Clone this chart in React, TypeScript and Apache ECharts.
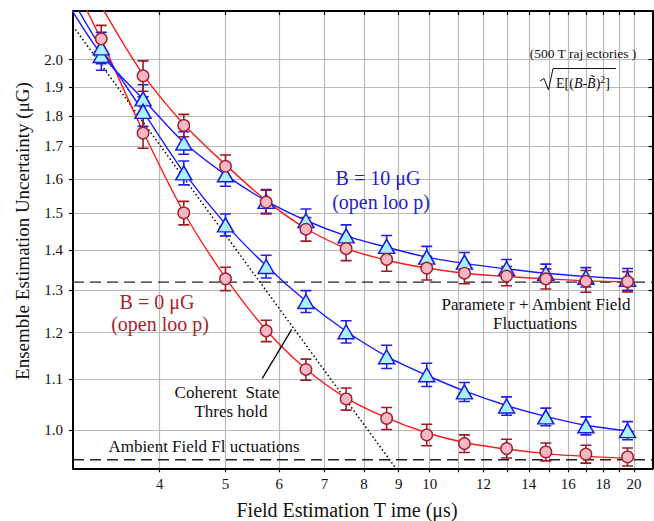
import React, { useEffect, useRef } from "react";
import * as echarts from "echarts";

// ---------- data ----------
const timesX = [3.28, 3.78, 4.34, 5.0, 5.74, 6.57, 7.53, 8.64, 9.9, 11.25, 12.98, 14.83, 16.99, 19.57];

const redUpperY = [null, 1.94, 1.768, 1.638, 1.532, 1.456, 1.404, 1.376, 1.354, 1.341, 1.334, 1.327, 1.321, 1.32];
const redUpperErr = [null, 0.055, 0.037, 0.035, 0.034, 0.032, 0.031, 0.03, 0.03, 0.026, 0.024, 0.025, 0.027, 0.025];
const redLowerY = [2.079, 1.743, 1.501, 1.327, 1.204, 1.12, 1.06, 1.022, 0.991, 0.975, 0.966, 0.96, 0.956, 0.951];
const redLowerErr = [0.053, 0.049, 0.033, 0.029, 0.024, 0.022, 0.022, 0.021, 0.02, 0.016, 0.017, 0.016, 0.016, 0.016];
const blueUpperY = [2.015, 1.858, 1.711, 1.612, 1.534, 1.48, 1.438, 1.41, 1.382, 1.369, 1.353, 1.341, 1.331, 1.326];
const blueUpperErr = [0.055, 0.05, 0.036, 0.034, 0.034, 0.032, 0.03, 0.029, 0.028, 0.025, 0.023, 0.023, 0.024, 0.027];
const blueLowerY = [2.044, 1.815, 1.618, 1.468, 1.358, 1.272, 1.202, 1.147, 1.109, 1.074, 1.046, 1.025, 1.008, 0.999];
const blueLowerErr = [0.06, 0.05, 0.036, 0.03, 0.029, 0.026, 0.025, 0.025, 0.024, 0.019, 0.018, 0.017, 0.017, 0.017];

// fitted curves
const redUpperFitX = [3.2, 3.28, 3.78, 4.34, 5.0, 5.74, 6.57, 7.53, 8.64, 9.9, 11.25, 12.98, 14.83, 16.99, 20];
const redUpperFitY = [2.28, 2.21, 1.945, 1.772, 1.643, 1.536, 1.458, 1.405, 1.374, 1.354, 1.341, 1.333, 1.327, 1.322, 1.32];
const redLowerFitX = [3.05, 3.28, 3.78, 4.34, 5.0, 5.74, 6.57, 7.53, 8.64, 9.9, 11.25, 12.98, 14.83, 16.99, 20];
const redLowerFitY = [2.25, 2.075, 1.748, 1.503, 1.33, 1.206, 1.121, 1.062, 1.023, 0.995, 0.977, 0.965, 0.957, 0.952, 0.948];
const blueUpperFitX = [2.9, 3.28, 3.78, 4.34, 5.0, 5.74, 6.57, 7.53, 8.64, 9.9, 11.25, 12.98, 14.83, 16.99, 20];
const blueUpperFitY = [2.24, 2.02, 1.857, 1.713, 1.612, 1.535, 1.48, 1.438, 1.408, 1.382, 1.366, 1.352, 1.341, 1.333, 1.326];
const blueLowerFitX = [2.9, 3.28, 3.78, 4.34, 5.0, 5.74, 6.57, 7.53, 8.64, 9.9, 11.25, 12.98, 14.83, 16.99, 20];
const blueLowerFitY = [2.29, 2.042, 1.815, 1.62, 1.47, 1.36, 1.273, 1.203, 1.148, 1.108, 1.076, 1.047, 1.026, 1.009, 0.997];

// coherent state threshold (dotted)
const thresholdX = [2.98, 8.89];
const thresholdY = [2.129, 0.933];
// horizontal dashed levels
const paramLevel = 1.319;
const ambientLevel = 0.946;

// axes
const xRange = [2.98, 21.3];
const yRange = [0.931, 2.19];
const xTickValues = [4, 5, 6, 7, 8, 9, 10, 11, 12, 13, 14, 15, 16, 17, 18, 19, 20];
const xLabelValues = [4, 5, 6, 7, 8, 9, 10, 12, 14, 16, 18, 20];
const yTickValues = [1.0, 1.1, 1.2, 1.3, 1.4, 1.5, 1.6, 1.7, 1.8, 1.9, 2.0];

const L = Math.log10;
const FONT = '"Liberation Serif", "Times New Roman", serif';

const RED_LINE = "#ff1a1a";
const BLUE_LINE = "#1a1aff";
const RED_ERR = "#9e1b26";
const BLUE_ERR = "#2020e6";

function pairs(xs: number[], ys: (number | null)[]) {
  const out: number[][] = [];
  xs.forEach((x, i) => {
    const y = ys[i];
    if (y != null) out.push([L(x), L(y)]);
  });
  return out;
}

function errSeries(ys: (number | null)[], errs: (number | null)[], color: string, z: number) {
  const data: number[][] = [];
  timesX.forEach((x, i) => {
    const y = ys[i];
    const e = errs[i];
    if (y != null && e != null) data.push([L(x), L(y - e), L(y + e)]);
  });
  return {
    type: "custom",
    z,
    clip: true,
    encode: { x: 0, y: [1, 2] },
    data,
    renderItem: (params: any, api: any) => {
      const x = api.value(0);
      const p1 = api.coord([x, api.value(1)]);
      const p2 = api.coord([x, api.value(2)]);
      const w = 5.5;
      const st = { stroke: color, lineWidth: 1.6 };
      return {
        type: "group",
        children: [
          { type: "line", shape: { x1: p1[0], y1: p1[1], x2: p2[0], y2: p2[1] }, style: st },
          { type: "line", shape: { x1: p1[0] - w, y1: p1[1], x2: p1[0] + w, y2: p1[1] }, style: st },
          { type: "line", shape: { x1: p2[0] - w, y1: p2[1], x2: p2[0] + w, y2: p2[1] }, style: st },
        ],
      };
    },
  };
}

function fitSeries(xs: number[], ys: number[], color: string) {
  return {
    type: "line",
    data: pairs(xs, ys),
    smooth: 0.3,
    showSymbol: false,
    symbol: "none",
    clip: true,
    z: 2,
    lineStyle: { color, width: 1.4 },
  };
}

function circleSeries(ys: (number | null)[]) {
  return {
    type: "scatter",
    data: pairs(timesX, ys),
    symbol: "circle",
    symbolSize: 11.5,
    z: 5,
    itemStyle: { color: "#f6b8c4", borderColor: "#a41d2a", borderWidth: 1.4, opacity: 1 },
  };
}

function triSeries(ys: (number | null)[]) {
  return {
    type: "scatter",
    data: pairs(timesX, ys),
    symbol: "triangle",
    symbolSize: [16, 14],
    z: 4,
    itemStyle: { color: "#a8f2fa", borderColor: "#1c1ce0", borderWidth: 1.5, opacity: 1 },
  };
}

function text(t: string, x: number, y: number, size: number, fill = "#111", extra: any = {}) {
  return {
    type: "text",
    x,
    y,
    z: 100,
    silent: true,
    ...extra,
    style: { text: t, fontSize: size, fontFamily: FONT, fill, align: "center", verticalAlign: "middle" },
  };
}

export default function App() {
  const ref = useRef<HTMLDivElement>(null);
  useEffect(() => {
    if (!ref.current) return;
    const chart = echarts.init(ref.current, null, { renderer: "svg" });
    const xMin = L(xRange[0]);
    const xMax = L(xRange[1]);
    const yMin = L(yRange[0]);
    const yMax = L(yRange[1]);
    const xTicks = xTickValues.map(L);
    const xLabels = xLabelValues.map(L);
    const yTicks = yTickValues.map(L);
    const gridLine = { show: true, lineStyle: { color: "#b9b9b9", width: 1.2 } };
    const axisLine = { show: true, onZero: false, lineStyle: { color: "#000", width: 2 } };

    chart.setOption({
      animation: false,
      backgroundColor: "#fff",
      grid: { left: 73, right: 1.5, top: 11, bottom: 52.7, containLabel: false },
      xAxis: [
        {
          type: "value",
          min: xMin,
          max: xMax,
          position: "bottom",
          axisLine,
          axisTick: { show: true, inside: false, length: 4, customValues: xTicks, lineStyle: { color: "#000", width: 1.2 } },
          axisLabel: {
            show: true,
            customValues: xLabels,
            margin: 8,
            fontSize: 15,
            fontFamily: FONT,
            color: "#111",
            formatter: (v: number) => String(Math.round(Math.pow(10, v))),
          },
          splitLine: gridLine,
        },
        {
          type: "value",
          min: xMin,
          max: xMax,
          position: "top",
          axisLine,
          axisTick: { show: true, inside: true, length: 4, customValues: xTicks, lineStyle: { color: "#000", width: 1.2 } },
          axisLabel: { show: false },
          splitLine: { show: false },
        },
      ],
      yAxis: [
        {
          type: "value",
          min: yMin,
          max: yMax,
          position: "left",
          axisLine,
          axisTick: { show: true, inside: false, length: 4, customValues: yTicks, lineStyle: { color: "#000", width: 1.2 } },
          axisLabel: {
            show: true,
            customValues: yTicks,
            margin: 10,
            fontSize: 15,
            fontFamily: FONT,
            color: "#111",
            formatter: (v: number) => Math.pow(10, v).toFixed(1),
          },
          splitLine: gridLine,
        },
        {
          type: "value",
          min: yMin,
          max: yMax,
          position: "right",
          axisLine,
          axisTick: { show: true, inside: true, length: 4, customValues: yTicks, lineStyle: { color: "#000", width: 1.2 } },
          axisLabel: { show: false },
          splitLine: { show: false },
        },
      ],
      series: [
        {
          type: "line",
          data: [
            [xMin, L(paramLevel)],
            [xMax, L(paramLevel)],
          ],
          symbol: "none",
          z: 1,
          lineStyle: { color: "#222", width: 1.3, type: [11, 6] },
        },
        {
          type: "line",
          data: [
            [xMin, L(ambientLevel)],
            [xMax, L(ambientLevel)],
          ],
          symbol: "none",
          z: 1,
          lineStyle: { color: "#222", width: 1.3, type: [11, 6] },
        },
        {
          type: "line",
          data: pairs(thresholdX, thresholdY),
          symbol: "none",
          z: 1,
          lineStyle: { color: "#000", width: 1.5, type: [1.5, 2.5] },
        },
        fitSeries(redUpperFitX, redUpperFitY, RED_LINE),
        fitSeries(redLowerFitX, redLowerFitY, RED_LINE),
        fitSeries(blueUpperFitX, blueUpperFitY, BLUE_LINE),
        fitSeries(blueLowerFitX, blueLowerFitY, BLUE_LINE),
        errSeries(blueUpperY, blueUpperErr, BLUE_ERR, 3),
        errSeries(blueLowerY, blueLowerErr, BLUE_ERR, 3),
        errSeries(redUpperY, redUpperErr, RED_ERR, 3),
        errSeries(redLowerY, redLowerErr, RED_ERR, 3),
        triSeries(blueUpperY),
        triSeries(blueLowerY),
        circleSeries(redUpperY),
        circleSeries(redLowerY),
      ],
      graphic: [
        text("B = 10 μG", 378, 178, 20, "#2222c4"),
        text("(open loo p)", 381, 202, 20, "#2222c4"),
        text("B = 0 μG", 157, 302, 20, "#a81e2c"),
        text("(open loo p)", 160, 324, 20, "#a81e2c"),
        text("Paramete r + Ambient Field", 536, 304, 17),
        text("Fluctuations", 535, 323, 17),
        text("Coherent  State", 227, 392, 17),
        text("Thres hold", 231, 411, 17),
        text("Ambient Field Fl uctuations", 204, 446, 17),
        text("(500 T raj ectories )", 583, 53, 13.5),
        {
          type: "text",
          x: 556,
          y: 83,
          z: 100,
          silent: true,
          style: {
            text: "{n|E[(}{i|B}{n|-}{i|B\u0303}{n|)}{s|2}{n|]}",
            fontFamily: FONT,
            fontSize: 14,
            fill: "#111",
            align: "left",
            verticalAlign: "middle",
            rich: {
              n: { fontSize: 14, fontFamily: FONT, fill: "#111" },
              i: { fontSize: 14, fontFamily: FONT, fontStyle: "italic", fill: "#111" },
              s: { fontSize: 10, fontFamily: FONT, fill: "#111", padding: [0, 0, 8, 0] },
            },
          },
        },
        {
          type: "polyline",
          z: 100,
          silent: true,
          shape: {
            points: [
              [540, 81],
              [544, 78.5],
              [548.5, 90],
              [553, 68.5],
              [616, 68.5],
            ],
          },
          style: { stroke: "#111", lineWidth: 1, fill: "none" },
        },
        {
          type: "line",
          z: 100,
          silent: true,
          shape: { x1: 291.7, y1: 329.3, x2: 262.3, y2: 378.3 },
          style: { stroke: "#000", lineWidth: 1.3 },
        },
        text("Field Estimation T ime (μs)", 347, 510, 20),
        text("Ensemble Estimation Uncertainty (μG)", 22, 231, 19, "#111", { rotation: Math.PI / 2 }),
      ],
    });
    return () => chart.dispose();
  }, []);
  return (
    <div
      ref={ref}
      style={{ position: "fixed", left: 0, top: 0, width: 654, height: 521, background: "#fff" }}
    />
  );
}
